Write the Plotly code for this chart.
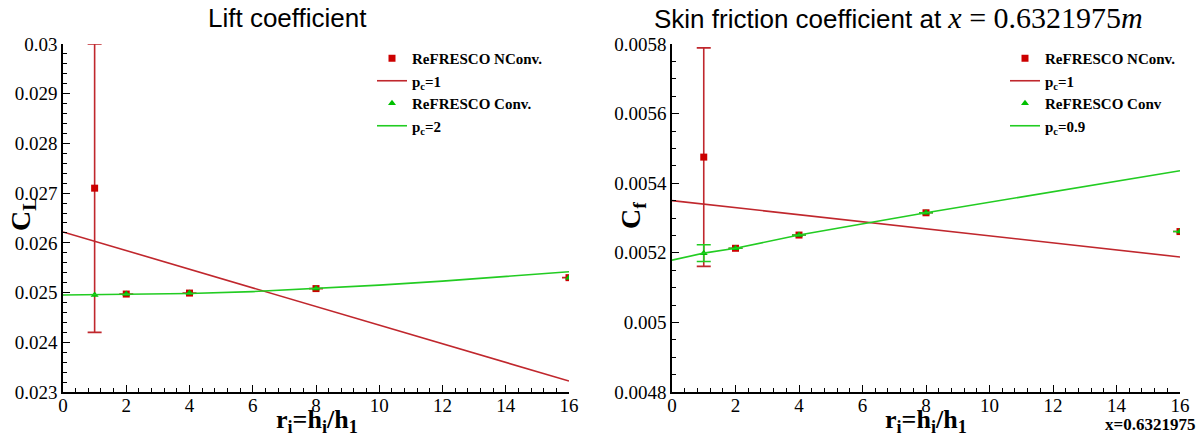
import plotly.graph_objects as go

# ---------------- data ----------------
r_pts = [1, 2, 4, 8, 16]

# Lift coefficient
cl_nconv = [0.0271, 0.02497, 0.02499, 0.02508, 0.02530]
cl_nconv_err = [0.0029, None, None, None, None]
cl_conv = [0.02495, 0.02497, 0.02499, 0.02508, 0.02530]
cl_fit1_x = [0, 16]
cl_fit1_y = [0.02622, 0.02322]
cl_fit2_x = [0, 2, 4, 6, 8, 10, 12, 14, 16]
cl_fit2_y = [0.02495, 0.02496, 0.02498, 0.02502, 0.02508, 0.02515, 0.02523, 0.02532, 0.02542]

# Skin friction coefficient
cf_nconv = [0.005475, 0.005213, 0.005251, 0.005315, 0.005261]
cf_nconv_err = [0.000314, None, None, None, None]
cf_conv = [0.005199, 0.005213, 0.005251, 0.005315, 0.005261]
cf_conv_err = [0.000024, None, None, None, None]
cf_fit1_x = [0, 16]
cf_fit1_y = [0.005350, 0.005188]
cf_fit2_x = [0, 1, 2, 4, 8, 16]
cf_fit2_y = [0.005179, 0.005199, 0.005213, 0.005251, 0.005315, 0.005436]

x_ticks = [0, 2, 4, 6, 8, 10, 12, 14, 16]

# ---------------- style ----------------
RED_M = "#cc0000"
RED_L = "#c0272d"
GRN_M = "#00c000"
GRN_L = "#22cc22"
SERIF = "Liberation Serif, Times New Roman, serif"
SANS = "Liberation Sans"
W, H = 1200, 437

fig = go.Figure()

def add_panel(xa, ya, leg, nconv, nerr, conv, cerr, f1x, f1y, f2x, f2y, lab1, lab2, lab3, lab4):
    fig.add_trace(go.Scatter(
        x=f1x, y=f1y, mode="lines", line=dict(color=RED_L, width=1.6),
        name=lab2, xaxis=xa, yaxis=ya, legend=leg, legendrank=2))
    fig.add_trace(go.Scatter(
        x=r_pts, y=nconv, mode="markers",
        marker=dict(symbol="square", size=7, color=RED_M),
        error_y=dict(type="data", array=nerr, visible=True, color=RED_L, thickness=1.6, width=7),
        name=lab1, xaxis=xa, yaxis=ya, legend=leg, legendrank=1))
    ey = None
    if cerr is not None:
        ey = dict(type="data", array=cerr, visible=True, color=GRN_L, thickness=1.6, width=7)
    fig.add_trace(go.Scatter(
        x=r_pts, y=conv, mode="markers",
        marker=dict(symbol="triangle-up", size=7, color=GRN_M),
        error_y=ey,
        name=lab3, xaxis=xa, yaxis=ya, legend=leg, legendrank=3))
    fig.add_trace(go.Scatter(
        x=f2x, y=f2y, mode="lines", line=dict(color=GRN_L, width=1.6),
        name=lab4, xaxis=xa, yaxis=ya, legend=leg, legendrank=4))

add_panel("x", "y", "legend", cl_nconv, cl_nconv_err, cl_conv, None,
          cl_fit1_x, cl_fit1_y, cl_fit2_x, cl_fit2_y,
          "<b>ReFRESCO NConv.</b>", "<b>p<sub>c</sub>=1</b>", "<b>ReFRESCO Conv.</b>", "<b>p<sub>c</sub>=2</b>")
add_panel("x2", "y2", "legend2", cf_nconv, cf_nconv_err, cf_conv, cf_conv_err,
          cf_fit1_x, cf_fit1_y, cf_fit2_x, cf_fit2_y,
          "<b>ReFRESCO NConv.</b>", "<b>p<sub>c</sub>=1</b>", "<b>ReFRESCO Conv</b>", "<b>p<sub>c</sub>=0.9</b>")

ydom = [1 - 392 / H, 1 - 44 / H]

def axis_common():
    return dict(
        showgrid=False, zeroline=False, showline=True, linecolor="black", linewidth=1.6,
        ticks="inside", ticklen=7, tickwidth=1.4, tickcolor="black",
        tickfont=dict(family=SERIF, size=19, color="black"),
        mirror=False, automargin=False,
    )

fig.update_layout(
    width=W, height=H,
    margin=dict(l=0, r=0, t=0, b=0, pad=0, autoexpand=False),
    font=dict(family=SERIF, color="black"),
    plot_bgcolor="white", paper_bgcolor="white",
    xaxis=dict(domain=[63 / W, 569 / W], range=[0, 16], tickvals=x_ticks, anchor="y",
               ticklabelstandoff=-5,
               minor=dict(dtick=0.4, ticks="inside", ticklen=4, tickcolor="black"),
               **axis_common()),
    yaxis=dict(domain=ydom, range=[0.023, 0.030], dtick=0.001, anchor="x",
               minor=dict(dtick=0.0002, ticks="inside", ticklen=4, tickcolor="black"),
               **axis_common()),
    xaxis2=dict(domain=[672 / W, 1180 / W], range=[0, 16], tickvals=x_ticks, anchor="y2",
                ticklabelstandoff=-5,
                minor=dict(dtick=0.4, ticks="inside", ticklen=4, tickcolor="black"),
                **axis_common()),
    yaxis2=dict(domain=ydom, range=[0.0048, 0.0058], dtick=0.0002, anchor="x2",
                minor=dict(dtick=0.00005, ticks="inside", ticklen=4, tickcolor="black"),
                **axis_common()),
    legend=dict(x=372 / W, y=1 - 42 / H, xanchor="left", yanchor="top",
                bgcolor="rgba(0,0,0,0)", tracegroupgap=0,
                font=dict(family=SERIF, size=15, color="black"), traceorder="normal"),
    legend2=dict(x=1005 / W, y=1 - 42 / H, xanchor="left", yanchor="top",
                 bgcolor="rgba(0,0,0,0)", tracegroupgap=0,
                 font=dict(family=SERIF, size=15, color="black"), traceorder="normal"),
    showlegend=True,
)

ann = [
    dict(text="Lift coefficient", x=287 / W, y=1 - 18 / H,
         font=dict(family=SANS, size=26, color="black")),
    dict(text="Skin friction coefficient at <span style=\"font-family:'Liberation Serif';font-size:30px\"><i>x</i> = 0.6321975<i>m</i></span>",
         x=898 / W, y=1 - 18 / H, font=dict(family=SANS, size=26, color="black")),
    dict(text="<b>C<sub>L</sub></b>", x=22 / W, y=1 - 215 / H, textangle=-90,
         font=dict(family=SERIF, size=28, color="black")),
    dict(text="<b>C<sub>f</sub></b>", x=632 / W, y=1 - 215 / H, textangle=-90,
         font=dict(family=SERIF, size=28, color="black")),
    dict(text="<b>r<sub>i</sub>=h<sub>i</sub>/h<sub>1</sub></b>", x=317 / W, y=1 - 421 / H,
         font=dict(family=SERIF, size=26, color="black")),
    dict(text="<b>r<sub>i</sub>=h<sub>i</sub>/h<sub>1</sub></b>", x=926 / W, y=1 - 421 / H,
         font=dict(family=SERIF, size=26, color="black")),
    dict(text="<b>x=0.6321975</b>", x=1197 / W, y=1 - 424 / H, xanchor="right",
         font=dict(family=SERIF, size=17, color="black")),
]
for a in ann:
    a.setdefault("xanchor", "center")
    a.update(xref="paper", yref="paper", yanchor="middle", showarrow=False)
fig.update_layout(annotations=ann)

fig.write_html("out.html")
